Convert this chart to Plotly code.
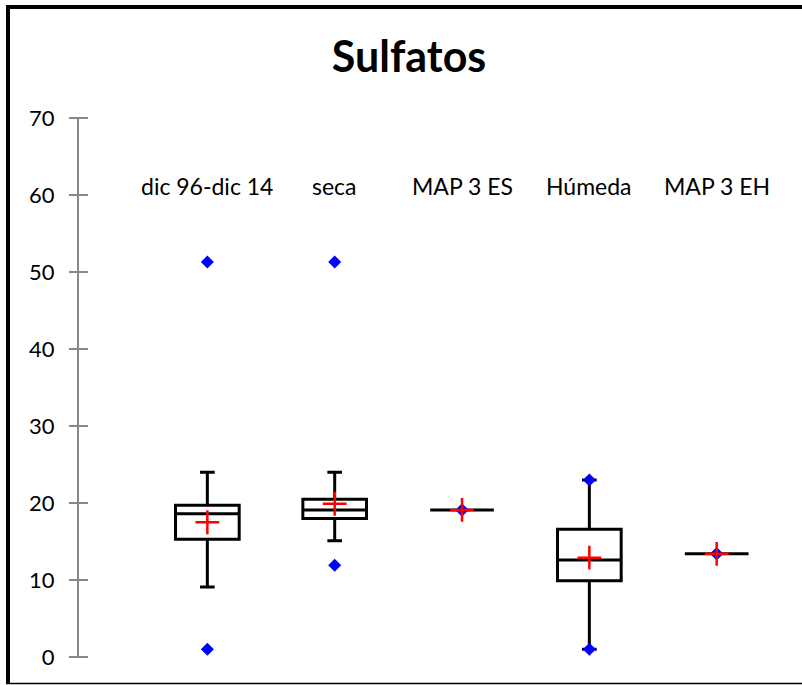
import plotly.graph_objects as go

categories = ["dic 96-dic 14", "seca", "MAP 3 ES", "Húmeda", "MAP 3 EH"]
q1 = [15.3, 18.0, 19.1, 9.9, 13.4]
median = [18.6, 19.1, 19.1, 12.6, 13.4]
q3 = [19.7, 20.5, 19.1, 16.6, 13.4]
lower_whisker = [9.1, 15.1, 19.1, 1.0, 13.4]
upper_whisker = [24.0, 24.0, 19.1, 23.0, 13.4]
means = [17.5, 19.9, 19.1, 12.9, 13.4]
minimums = [1.0, 11.9, 19.1, 1.0, 13.4]
maximums = [51.3, 51.3, 19.1, 23.0, 13.4]
y_ticks = [0, 10, 20, 30, 40, 50, 60, 70]

FONT = "Lato"
L, R, T, B = 79, 0, 118, 28
W, H = 802, 685
pw, ph = W - L - R, H - T - B
def px(x): return (x - L) / pw
def py(y): return (H - B - y) / ph

fig = go.Figure()
for i, c in enumerate(categories):
    fig.add_trace(go.Box(
        x=[c], q1=[q1[i]], median=[median[i]], q3=[q3[i]],
        lowerfence=[lower_whisker[i]], upperfence=[upper_whisker[i]],
        boxpoints=False, fillcolor="white", width=0.5, whiskerwidth=0.23,
        line=dict(color="black", width=3), showlegend=False, hoverinfo="skip"))

fig.add_trace(go.Scatter(
    x=categories + categories, y=minimums + maximums, mode="markers",
    marker=dict(symbol="diamond", color="#0000FF", size=10), showlegend=False))
fig.add_trace(go.Scatter(
    x=categories, y=means, mode="markers",
    marker=dict(symbol="cross-thin", size=17, line=dict(color="#FF0000", width=2.5)),
    showlegend=False))
# helper trace so the second (tick-only) y axis is drawn
fig.add_trace(go.Scatter(x=[categories[0]], y=[0], yaxis="y2", mode="markers",
                         marker=dict(opacity=0), showlegend=False, hoverinfo="skip"))

for c in categories:
    fig.add_annotation(x=c, y=61.2, text=c, showarrow=False,
                       font=dict(family=FONT, size=23, color="black"))

shapes = [
    dict(type="line", xref="paper", yref="paper", x0=px(8), x1=px(8), y0=py(5), y1=py(684),
         line=dict(color="black", width=4)),
    dict(type="line", xref="paper", yref="paper", x0=px(6), x1=px(805), y0=py(7), y1=py(7),
         line=dict(color="black", width=4)),
    dict(type="line", xref="paper", yref="paper", x0=px(6), x1=px(805), y0=py(683.5), y1=py(683.5),
         line=dict(color="black", width=1.5)),
]

fig.update_layout(
    width=W, height=H, margin=dict(l=L, r=R, t=T, b=B),
    paper_bgcolor="white", plot_bgcolor="white",
    title=dict(text="<b>Sulfatos</b>", x=0.51, xanchor="center", y=1 - 57 / H, yanchor="middle",
               font=dict(family=FONT, size=43, color="black")),
    xaxis=dict(type="category", categoryarray=categories, range=[-1.008, 4.67],
               showticklabels=False, showgrid=False, zeroline=False, showline=False, ticks=""),
    yaxis=dict(range=[0, 70], tickvals=y_ticks, showgrid=False, zeroline=False,
               showline=True, linecolor="#888888", linewidth=2,
               ticks="outside", ticklen=8, tickwidth=2, tickcolor="#888888",
               ticklabelstandoff=10,
               tickfont=dict(family=FONT, size=22, color="black")),
    yaxis2=dict(range=[0, 70], tickvals=y_ticks, overlaying="y", side="left",
                anchor="free", position=px(88),
                showgrid=False, zeroline=False, showline=False, showticklabels=False,
                ticks="outside", ticklen=16, tickwidth=2, tickcolor="#888888"),
    shapes=shapes,
)
fig.write_html("out.html")
